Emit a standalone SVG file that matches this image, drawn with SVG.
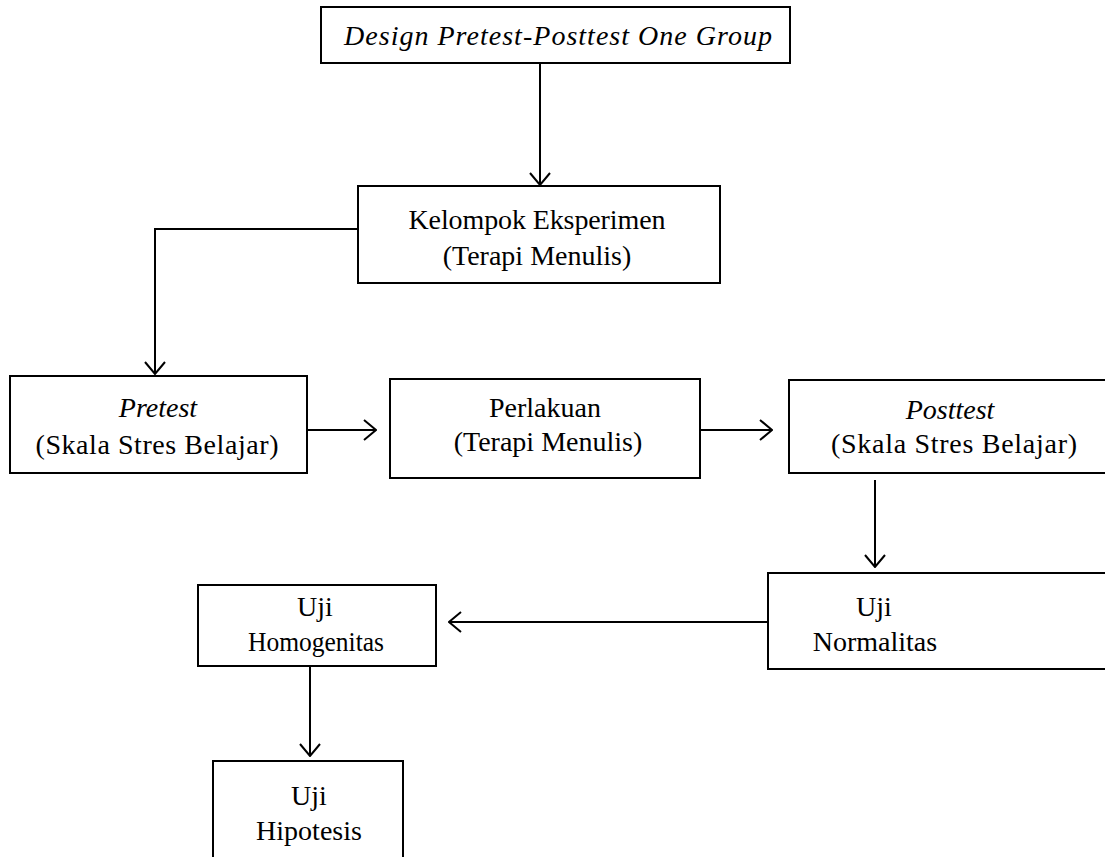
<svg xmlns="http://www.w3.org/2000/svg" width="1105" height="857" viewBox="0 0 1105 857">
<style>
.box{fill:#fff;stroke:#000;stroke-width:2}
.t{font-family:'Liberation Serif','Times New Roman',serif;font-size:28px;fill:#000;text-anchor:middle}
.i{font-style:italic}
.c{fill:none;stroke:#000;stroke-width:2}
</style>
<defs>
<marker id="ah" markerWidth="14" markerHeight="22" refX="13" refY="11" orient="auto" markerUnits="userSpaceOnUse">
<path d="M1,1 L13,11 L1,21" fill="none" stroke="#000" stroke-width="2"/>
</marker>
</defs>
<g id="connectors">
<line class="c" x1="540" y1="63" x2="540" y2="185" marker-end="url(#ah)"/>
<polyline class="c" points="358,229 155,229 155,374" marker-end="url(#ah)"/>
<line class="c" x1="307" y1="430" x2="376" y2="430" marker-end="url(#ah)"/>
<line class="c" x1="700" y1="430" x2="772" y2="430" marker-end="url(#ah)"/>
<line class="c" x1="875" y1="480" x2="875" y2="567" marker-end="url(#ah)"/>
<line class="c" x1="768" y1="622" x2="449" y2="622" marker-end="url(#ah)"/>
<line class="c" x1="310" y1="666" x2="310" y2="756" marker-end="url(#ah)"/>
</g>
<g id="design">
<rect class="box" x="321" y="7" width="469" height="56"/>
<text class="t i" x="558" y="45" font-size="30" textLength="428" lengthAdjust="spacing">Design Pretest-Posttest One Group</text>
</g>
<g id="kelompok">
<rect class="box" x="358" y="186" width="362" height="97"/>
<text class="t" x="537" y="229" textLength="257" lengthAdjust="spacing">Kelompok Eksperimen</text>
<text class="t" x="537" y="265">(Terapi Menulis)</text>
</g>
<g id="pretest">
<rect class="box" x="10" y="376" width="297" height="97"/>
<text class="t i" x="158" y="417">Pretest</text>
<text class="t" x="157" y="454" textLength="243" lengthAdjust="spacing">(Skala Stres Belajar)</text>
</g>
<g id="perlakuan">
<rect class="box" x="390" y="379" width="310" height="99"/>
<text class="t" x="545" y="417">Perlakuan</text>
<text class="t" x="548" y="451">(Terapi Menulis)</text>
</g>
<g id="posttest">
<rect class="box" x="789" y="380" width="330" height="93"/>
<text class="t i" x="950" y="419">Posttest</text>
<text class="t" x="954" y="453" textLength="246" lengthAdjust="spacing">(Skala Stres Belajar)</text>
</g>
<g id="normalitas">
<rect class="box" x="768" y="573" width="350" height="96"/>
<text class="t" x="874" y="616">Uji</text>
<text class="t" x="875" y="651">Normalitas</text>
</g>
<g id="homogenitas">
<rect class="box" x="198" y="585" width="238" height="81"/>
<text class="t" x="315" y="616">Uji</text>
<text class="t" x="316" y="651" textLength="136" lengthAdjust="spacingAndGlyphs">Homogenitas</text>
</g>
<g id="hipotesis">
<rect class="box" x="213" y="761" width="190" height="110"/>
<text class="t" x="309" y="805">Uji</text>
<text class="t" x="309" y="840">Hipotesis</text>
</g>
</svg>
